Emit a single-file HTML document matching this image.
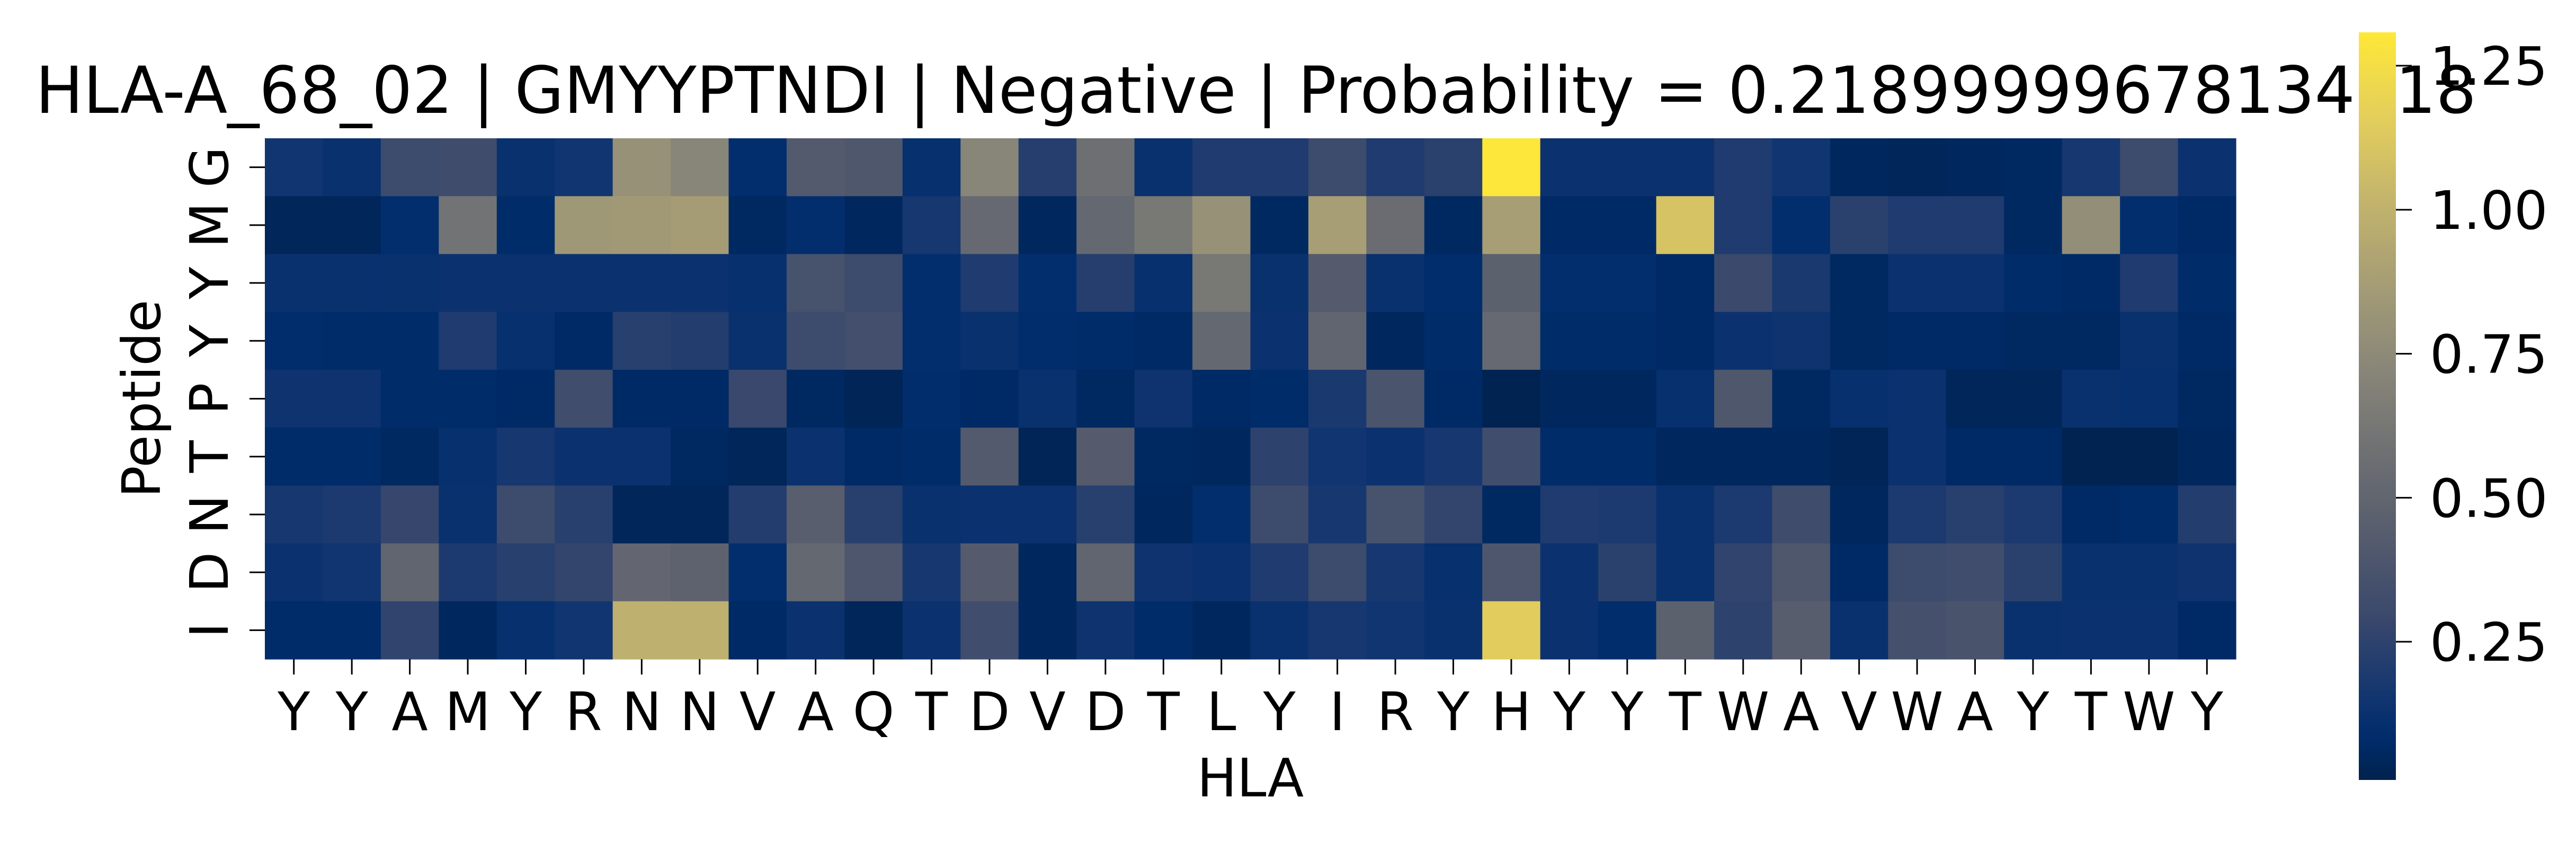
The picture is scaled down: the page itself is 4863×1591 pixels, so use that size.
<!DOCTYPE html>
<html><head><meta charset="utf-8">
<style>
html,body{margin:0;padding:0;background:#fff;}
svg{display:block;}
text{font-family:"DejaVu Sans","Liberation Sans",sans-serif;fill:#000;}
</style></head>
<body>
<svg id="chart" width="4863" height="1591" viewBox="0 0 4863 1591" xmlns="http://www.w3.org/2000/svg">
<rect width="4863" height="1591" fill="#fff"/>
<text x="67" y="213" font-size="122" textLength="4608" lengthAdjust="spacingAndGlyphs">HLA-A_68_02 | GMYYPTNDI | Negative | Probability = 0.21899999678134918</text>
<g id="cells"></g>
<g id="axes"></g>
<defs><linearGradient id="cbgrad" x1="0" y1="1" x2="0" y2="0"></linearGradient></defs>
<g id="cbar"></g>
</svg>
<script>
const xLabels = ["Y","Y","A","M","Y","R","N","N","V","A","Q","T","D","V","D","T","L","Y","I","R","Y","H","Y","Y","T","W","A","V","W","A","Y","T","W","Y"];
const yLabels = ["G","M","Y","Y","P","T","N","D","I"];
const rowG = [0.15,0.12,0.31,0.32,0.12,0.15,0.80,0.72,0.10,0.42,0.40,0.11,0.72,0.22,0.57,0.12,0.20,0.20,0.31,0.20,0.24,1.30,0.13,0.13,0.13,0.20,0.15,0.05,0.04,0.05,0.06,0.17,0.31,0.13];
const rowM = [0.04,0.04,0.10,0.60,0.08,0.84,0.85,0.87,0.06,0.10,0.05,0.17,0.53,0.05,0.52,0.63,0.80,0.06,0.88,0.55,0.06,0.88,0.07,0.07,1.10,0.20,0.10,0.24,0.20,0.20,0.06,0.78,0.10,0.07];
const rowY1 = [0.12,0.12,0.12,0.13,0.13,0.13,0.13,0.13,0.11,0.36,0.31,0.10,0.20,0.10,0.22,0.11,0.63,0.12,0.43,0.12,0.09,0.47,0.10,0.10,0.07,0.30,0.18,0.06,0.13,0.13,0.08,0.07,0.20,0.08];
const rowY2 = [0.09,0.08,0.08,0.20,0.11,0.07,0.23,0.21,0.12,0.31,0.34,0.10,0.12,0.09,0.08,0.07,0.52,0.13,0.50,0.05,0.08,0.53,0.08,0.08,0.07,0.13,0.14,0.06,0.07,0.07,0.06,0.06,0.12,0.07];
const rowP = [0.14,0.14,0.08,0.08,0.07,0.33,0.07,0.07,0.29,0.06,0.03,0.09,0.07,0.12,0.06,0.14,0.07,0.08,0.18,0.38,0.07,0.02,0.05,0.05,0.11,0.40,0.06,0.11,0.13,0.04,0.04,0.12,0.11,0.06];
const rowT = [0.08,0.08,0.06,0.11,0.17,0.13,0.13,0.06,0.04,0.13,0.07,0.08,0.42,0.03,0.43,0.06,0.05,0.25,0.15,0.13,0.17,0.33,0.08,0.08,0.05,0.05,0.05,0.03,0.13,0.07,0.07,0.02,0.02,0.05];
const rowN = [0.17,0.19,0.28,0.12,0.31,0.23,0.04,0.04,0.21,0.45,0.23,0.12,0.13,0.13,0.23,0.05,0.10,0.31,0.17,0.36,0.27,0.06,0.20,0.19,0.12,0.19,0.32,0.05,0.19,0.23,0.19,0.07,0.08,0.21];
const rowD = [0.13,0.15,0.50,0.19,0.23,0.27,0.51,0.48,0.10,0.52,0.39,0.17,0.43,0.05,0.50,0.14,0.13,0.20,0.31,0.17,0.11,0.39,0.13,0.24,0.12,0.26,0.40,0.07,0.31,0.33,0.24,0.12,0.12,0.14];
const rowI = [0.08,0.08,0.26,0.05,0.11,0.15,0.99,0.99,0.07,0.13,0.04,0.13,0.33,0.05,0.14,0.08,0.05,0.12,0.17,0.15,0.12,1.15,0.13,0.09,0.47,0.25,0.44,0.12,0.35,0.37,0.12,0.13,0.13,0.07];
const cbTicks = [0.25,0.50,0.75,1.00,1.25];
const cbTickLabels = ["0.25","0.50","0.75","1.00","1.25"];
const values = [rowG,rowM,rowY1,rowY2,rowP,rowT,rowN,rowD,rowI];

const NS = "http://www.w3.org/2000/svg";
const vmin = 0.01, vmax = 1.308;
const X0 = 500, X1 = 4221, Y0 = 261, Y1 = 1244;
const cw = (X1 - X0) / xLabels.length, ch = (Y1 - Y0) / yLabels.length;
const xScale = i => X0 + i * cw;
const yScale = j => Y0 + j * ch;
const CB_X = 4453, CB_W = 70, CB_TOP = 61, CB_BOT = 1472;
const cbScale = v => CB_BOT - (v - vmin) / (vmax - vmin) * (CB_BOT - CB_TOP);

const stops = [[0,"#00224e"],[0.06,"#002d6d"],[0.111,"#123570"],[0.222,"#3b496c"],[0.333,"#575d6d"],[0.444,"#707173"],[0.556,"#8a8779"],[0.667,"#a69d75"],[0.778,"#c4b56c"],[0.889,"#e4cf5b"],[1,"#fee838"]];
function hex(c){return [parseInt(c.slice(1,3),16),parseInt(c.slice(3,5),16),parseInt(c.slice(5,7),16)];}
function cividis(t){
  t=Math.max(0,Math.min(1,t));
  for(let k=1;k<stops.length;k++){
    if(t<=stops[k][0]){
      const a=stops[k-1],b=stops[k];const f=(t-a[0])/(b[0]-a[0]);
      const ca=hex(a[1]),cb=hex(b[1]);
      return "rgb("+ca.map((v,i)=>Math.round(v+(cb[i]-v)*f)).join(",")+")";
    }
  }
  return stops[stops.length-1][1];
}
function el(tag, attrs, parent){
  const e=document.createElementNS(NS,tag);
  for(const k in attrs) e.setAttribute(k,attrs[k]);
  parent.appendChild(e); return e;
}
const cells=document.getElementById("cells");
values.forEach((row,j)=>{
  row.forEach((v,i)=>{
    const r=el("rect",{x:xScale(i),y:yScale(j),width:cw+0.6,height:ch+0.6,fill:cividis((v-vmin)/(vmax-vmin))},cells);
    
    
  });
});
const axes=document.getElementById("axes");
xLabels.forEach((lab,i)=>{
  const cx=xScale(i)+cw/2;
  const t=el("line",{x1:cx,x2:cx,y1:Y1,y2:Y1+29,stroke:"#000","stroke-width":3},axes);
  
  
  const tx=el("text",{x:cx,y:1378,"font-size":100,"text-anchor":"middle"},axes);
  tx.textContent=lab;
  
  
});
yLabels.forEach((lab,j)=>{
  const cy=yScale(j)+ch/2;
  const t=el("line",{x1:X0-29,x2:X0,y1:cy,y2:cy,stroke:"#000","stroke-width":3},axes);
  
  
  const tx=el("text",{x:0,y:0,"font-size":100,"text-anchor":"middle",transform:"translate(430,"+cy+") rotate(-90)"},axes);
  tx.textContent=lab;
  
  
});
const xt=el("text",{x:(X0+X1)/2,y:1503,"font-size":100,"text-anchor":"middle"},axes);
xt.textContent="HLA";


const yt=el("text",{x:0,y:0,"font-size":100,"text-anchor":"middle",transform:"translate(302,"+((Y0+Y1)/2)+") rotate(-90)"},axes);
yt.textContent="Peptide";



const grad=document.getElementById("cbgrad");
for(let k=0;k<=40;k++){
  const t=k/40;
  el("stop",{offset:t,"stop-color":cividis(t)},grad);
}
const cbar=document.getElementById("cbar");
const cb=el("rect",{x:CB_X,y:CB_TOP,width:CB_W,height:CB_BOT-CB_TOP,fill:"url(#cbgrad)"},cbar);


cbTicks.forEach((v,k)=>{
  const y=cbScale(v);
  const t=el("line",{x1:CB_X+CB_W,x2:CB_X+CB_W+30,y1:y,y2:y,stroke:"#000","stroke-width":3},cbar);
  
  
  const tx=el("text",{x:4587,y:y+36,"font-size":100},cbar);
  tx.textContent=cbTickLabels[k];
  
  
});
</script>
</body></html>
